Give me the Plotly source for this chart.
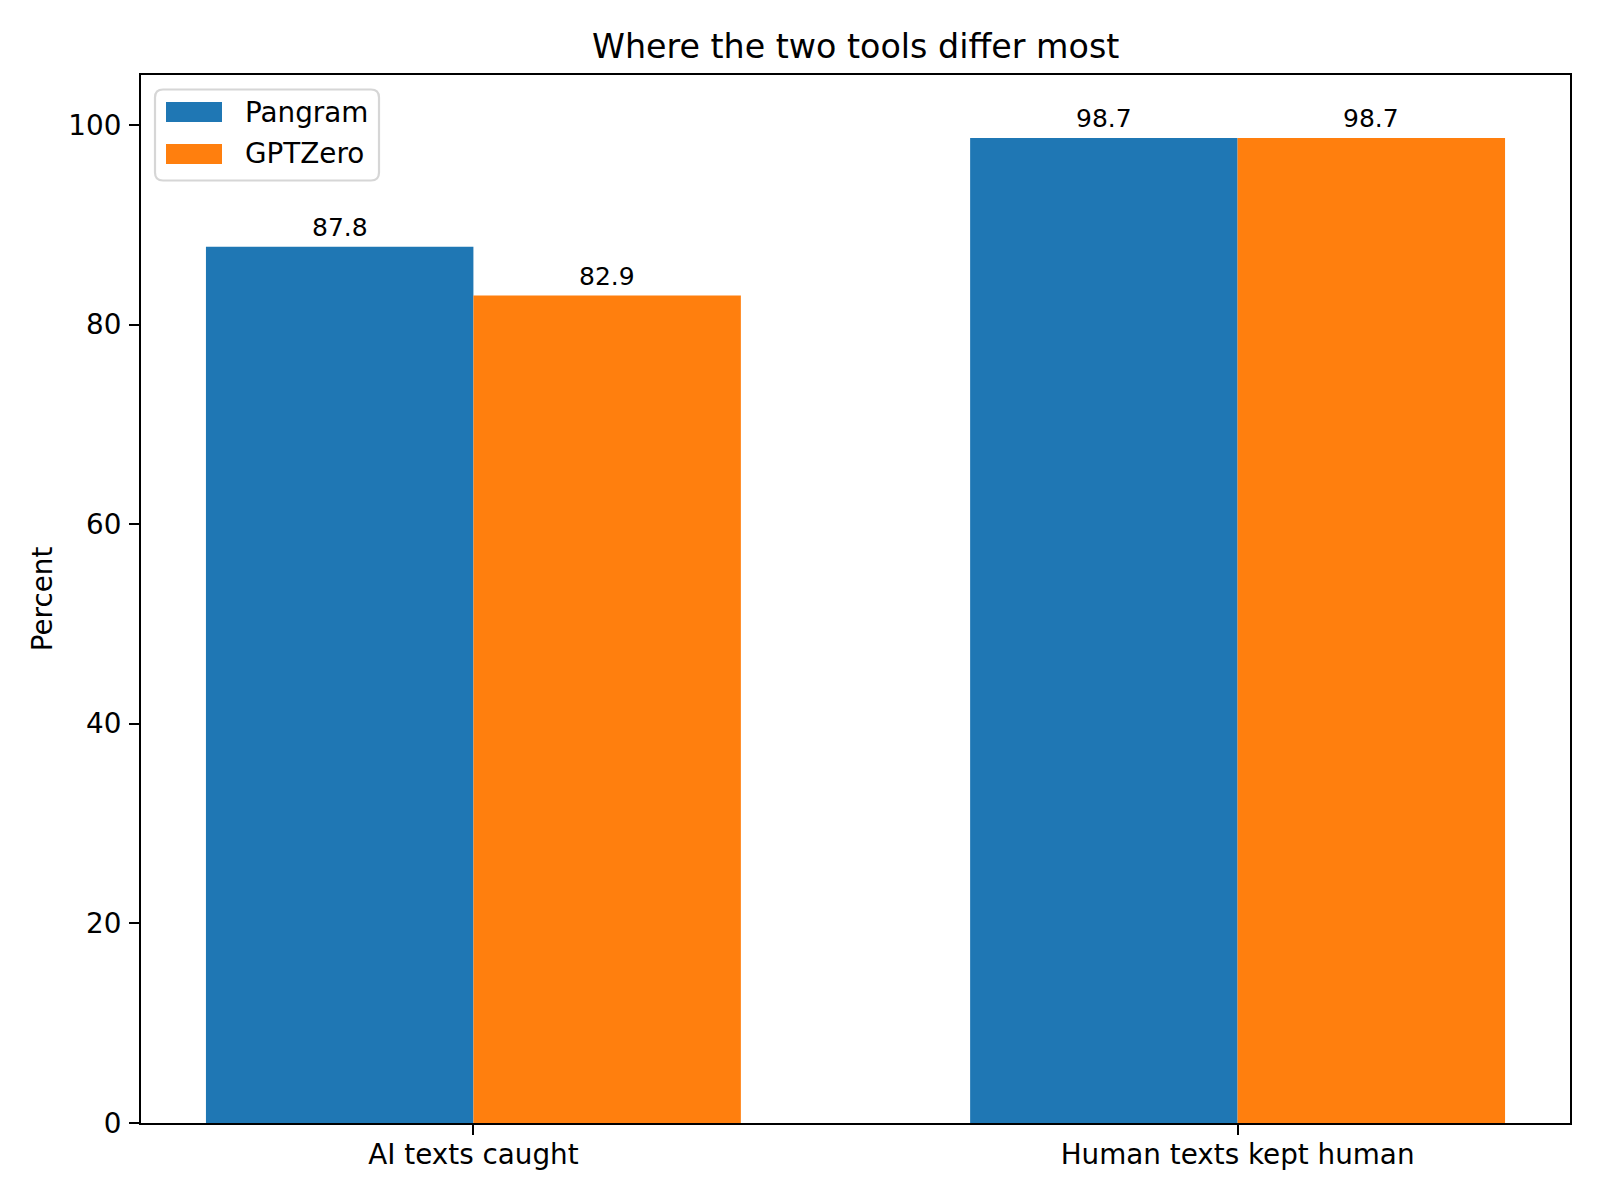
import plotly.graph_objects as go

categories = ["AI texts caught", "Human texts kept human"]
pangram = [87.8, 98.7]
gptzero = [82.9, 98.7]
series_names = ["Pangram", "GPTZero"]
colors = ["#1f77b4", "#ff7f0e"]
y_ticks = [0, 20, 40, 60, 80, 100]

W, H = 1600, 1200
L, R, T, B = 141, 30, 75, 77
PW, PH = W - L - R, H - T - B
FONT = "DejaVu Sans"
bar_w = 0.35
x_pos = list(range(len(categories)))


def px_x(px):
    return (px - L) / PW


def px_y(py):
    return (H - B - py) / PH


fig = go.Figure()
for name, vals, col, off in [(series_names[0], pangram, colors[0], -bar_w),
                             (series_names[1], gptzero, colors[1], 0.0)]:
    fig.add_trace(go.Bar(x=x_pos, y=vals, name=name, marker_color=col,
                         marker_line_width=0, width=bar_w, offset=off,
                         showlegend=False))

annotations = []
for vals, off in [(pangram, -bar_w / 2), (gptzero, bar_w / 2)]:
    for xi, v in zip(x_pos, vals):
        annotations.append(dict(x=xi + off, y=v, xref="x", yref="y", text=f"{v:.1f}",
                                showarrow=False, yanchor="bottom", xanchor="center",
                                yshift=3, font=dict(family=FONT, size=25, color="black")))

# title
annotations.append(dict(x=0.5, y=1, xref="paper", yref="paper",
                        text="Where the two tools differ most", showarrow=False,
                        yanchor="bottom", xanchor="center", yshift=7,
                        font=dict(family=FONT, size=33.3, color="black")))

# legend (matplotlib-style)
shapes = []
lx0, ly0, lx1, ly1 = 155, 89.5, 379, 180.5
r = 8
x0, x1 = px_x(lx0), px_x(lx1)
y0, y1 = px_y(ly0), px_y(ly1)
rx, ry = r / PW, r / PH
path = (f"M{x0+rx},{y0} L{x1-rx},{y0} Q{x1},{y0} {x1},{y0-ry} "
        f"L{x1},{y1+ry} Q{x1},{y1} {x1-rx},{y1} L{x0+rx},{y1} Q{x0},{y1} {x0},{y1+ry} "
        f"L{x0},{y0-ry} Q{x0},{y0} {x0+rx},{y0} Z")
shapes.append(dict(type="path", path=path, xref="paper", yref="paper",
                   line=dict(color="#d6d6d6", width=2.2), fillcolor="rgba(255,255,255,0.8)"))
rows = [112, 154]
for name, col, cy in zip(series_names, colors, rows):
    shapes.append(dict(type="rect", xref="paper", yref="paper",
                       x0=px_x(166), x1=px_x(222), y0=px_y(cy - 10), y1=px_y(cy + 10),
                       line=dict(width=0), fillcolor=col))
    annotations.append(dict(x=px_x(243), y=px_y(cy), xref="paper", yref="paper",
                            text=name, showarrow=False, xanchor="left", yanchor="middle",
                            font=dict(family=FONT, size=27.8, color="black")))

fig.update_layout(
    width=W, height=H,
    margin=dict(l=L, r=R, t=T, b=B),
    paper_bgcolor="white", plot_bgcolor="white",
    barmode="overlay",
    font=dict(family=FONT, size=27.8, color="black"),
    annotations=annotations, shapes=shapes,
    showlegend=False,
)
fig.update_xaxes(range=[-0.435, 1.435], tickvals=x_pos, ticktext=categories,
                 showgrid=False, zeroline=False, showline=True, mirror=True,
                 linecolor="black", linewidth=2.2, ticks="outside", ticklen=10,
                 tickwidth=2.2, tickcolor="black", ticklabelstandoff=-4,
                 tickfont=dict(family=FONT, size=27.8, color="black"))
fig.update_yaxes(range=[0, 105], tickvals=y_ticks, showgrid=False, zeroline=False,
                 showline=True, mirror=True, linecolor="black", linewidth=2.2,
                 ticks="outside", ticklen=10, tickwidth=2.2, tickcolor="black",
                 ticklabelstandoff=2,
                 tickfont=dict(family=FONT, size=27.8, color="black"),
                 title=dict(text="Percent", standoff=8,
                            font=dict(family=FONT, size=27.8, color="black")))

fig.write_html("out.html")
